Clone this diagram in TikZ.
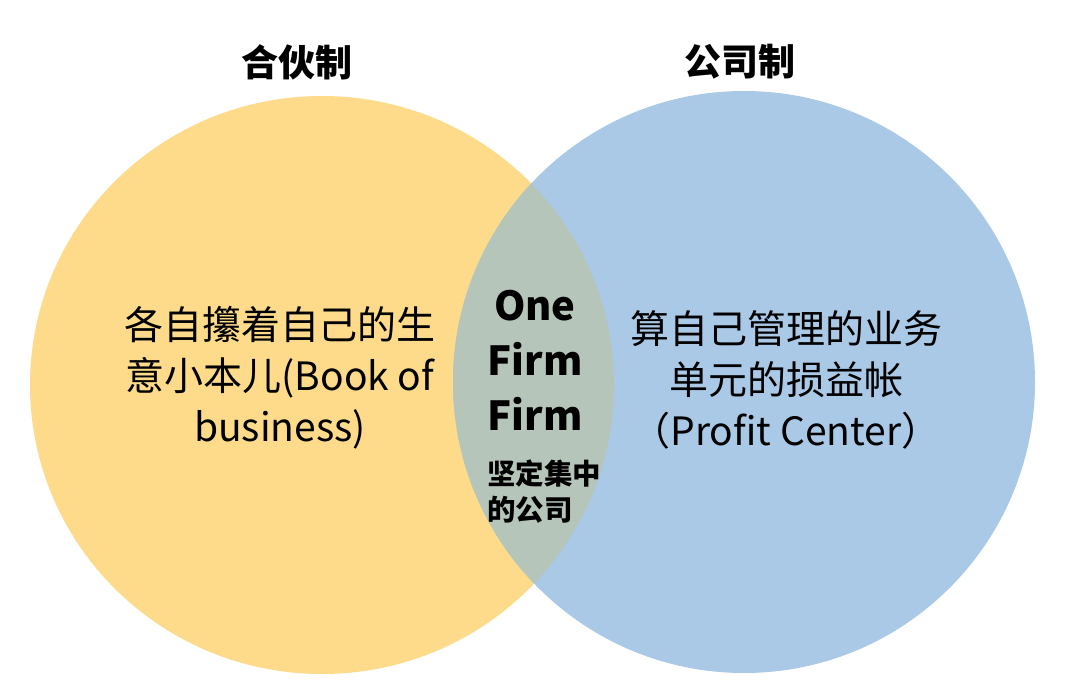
\documentclass[tikz,border=0pt]{standalone}
\usepackage{fontspec}
\setmainfont{Noto Sans CJK SC}
\definecolor{venyellow}{RGB}{253,219,138}
\definecolor{venblue}{RGB}{170,201,231}
\definecolor{venover}{RGB}{182,197,186}
\tikzset{
  title/.style={font=\fontsize{37}{40}\selectfont\bfseries, text=black},
  body/.style={font=\fontsize{39}{51}\selectfont, align=center, text=black},
  center/.style={font=\fontsize{40}{55}\selectfont\bfseries, align=center, text=black},
  small/.style={font=\fontsize{28.5}{36}\selectfont\bfseries, align=left, text=black, inner sep=0pt}
}
\begin{document}
\begin{tikzpicture}[x=1pt,y=-1pt]
\useasboundingbox (0,0) rectangle (1080,690);
\fill[white] (0,0) rectangle (1080,690);
\fill[venyellow] (322,385) ellipse [x radius=292, y radius=289];
\fill[venblue] (744,382) circle [radius=291];
\begin{scope}
  \clip (322,385) ellipse [x radius=292, y radius=289];
  \fill[venover] (744,382) circle [radius=291];
\end{scope}
\node[title] (t1) at (297,62) {合伙制};
\node[title] (t2) at (740,62) {公司制};
\node[body] (lt) at (280,378) {各自攥着自己的生\\意小本儿(Book of\\business)};
\node[body] (rt) at (786,380) {算自己管理的业务\\单元的损益帐\\（Profit Center）};
\node[center] (of) at (535,360) {One\\Firm\\Firm};
\node[small, anchor=west] (cn) at (487,492) {坚定集中\\的公司};
\end{tikzpicture}
\end{document}
